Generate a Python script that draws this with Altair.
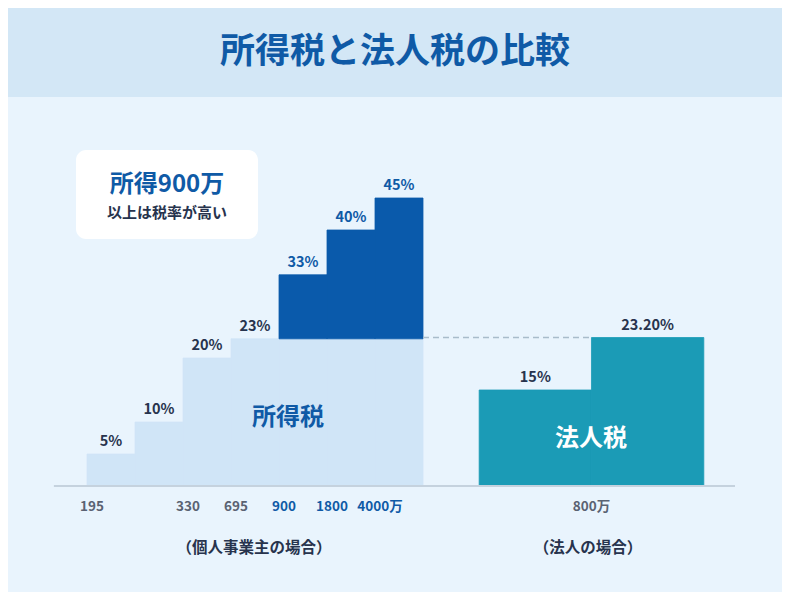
import altair as alt
import pandas as pd

# 所得税（個人事業主）の税率ブラケット
income_rates = [5, 10, 20, 23, 33, 40, 45]
income_labels = ["5%", "10%", "20%", "23%", "33%", "40%", "45%"]
# 境界ラベル（画像のとおりの並び）
threshold_labels = ["195", "330", "695", "900", "1800", "4000万"]
threshold_slots = [0, 2, 3, 4, 5, 6]

# 法人税
corp_rates = [15, 23.2]
corp_labels = ["15%", "23.20%"]
corp_threshold = "800万"

FONT = "Noto Sans CJK JP"
NAVY = "#27334d"
BLUE = "#0f5aa6"
GRAY = "#5a6272"
LIGHT = "#d0e5f7"
DARK = "#0a5aab"
TEAL = "#1b9bb6"
BG = "#e9f4fd"
BAND = "#d3e7f6"
HIGH = 23  # 23%を超える部分を濃色で表示

W, H = 774, 584
UNIT = 48  # px per bracket
X0 = 79  # chart x of first bracket
BASE = 478  # chart y of 0%
PX_PER_PCT = 6.4

x_scale = alt.Scale(domain=[-X0 / UNIT, (W - X0) / UNIT], nice=False, zero=False)
y_scale = alt.Scale(domain=[-(H - BASE) / PX_PER_PCT, BASE / PX_PER_PCT], nice=False, zero=False)

income = pd.DataFrame({
    "start": list(range(len(income_rates))),
    "end": [i + 1 for i in range(len(income_rates))],
    "rate": income_rates,
    "label": income_labels,
})
income["mid"] = income["start"] + 0.5
income["light_top"] = income["rate"].clip(upper=HIGH)
income["dark_bottom"] = HIGH
income["color"] = [BLUE if r > HIGH else NAVY for r in income_rates]

corp_start = 8.17
corp_width = 2.34
corp = pd.DataFrame({
    "start": [corp_start + i * corp_width for i in range(len(corp_rates))],
    "end": [corp_start + (i + 1) * corp_width for i in range(len(corp_rates))],
    "rate": corp_rates,
    "label": corp_labels,
})
corp["mid"] = (corp["start"] + corp["end"]) / 2

ticks = pd.DataFrame({
    "pos": threshold_slots,
    "label": threshold_labels,
    "color": [BLUE if t >= 4 else GRAY for t in threshold_slots],
})
corp_tick = pd.DataFrame({"pos": [corp_start + corp_width], "label": [corp_threshold]})

X = lambda f: alt.X(f"{f}:Q", scale=x_scale, axis=None)
Y = lambda f: alt.Y(f"{f}:Q", scale=y_scale, axis=None)

one = pd.DataFrame({"a": [0]})

band = alt.Chart(one).mark_rect(color=BAND).encode(
    x=alt.value(0), x2=alt.value(W), y=alt.value(0), y2=alt.value(89)
)
title = alt.Chart(one).mark_text(
    text="所得税と法人税の比較", font=FONT, fontSize=35, fontWeight="bold", color=BLUE
).encode(x=alt.value(W / 2), y=alt.value(44))

light = alt.Chart(income).mark_rect(color=LIGHT, stroke=LIGHT, strokeWidth=0.8).encode(
    x=X("start"), x2="end", y=Y("light_top"), y2=alt.datum(0)
)
dark = alt.Chart(income[income["rate"] > HIGH]).mark_rect(color=DARK, stroke=DARK, strokeWidth=0.8).encode(
    x=X("start"), x2="end", y=Y("rate"), y2="dark_bottom"
)
income_text = alt.Chart(income).mark_text(
    font=FONT, fontSize=14.5, fontWeight="bold", baseline="alphabetic", dy=-8
).encode(x=X("mid"), y=Y("rate"), text="label", color=alt.Color("color:N", scale=None))

corp_bars = alt.Chart(corp).mark_rect(color=TEAL, stroke=TEAL, strokeWidth=0.8).encode(
    x=X("start"), x2="end", y=Y("rate"), y2=alt.datum(0)
)
corp_text = alt.Chart(corp).mark_text(
    font=FONT, fontSize=14.5, fontWeight="bold", baseline="alphabetic", dy=-8, color=NAVY
).encode(x=X("mid"), y=Y("rate"), text="label")

dash = alt.Chart(pd.DataFrame({"x1": [len(income_rates)], "x2": [corp_start + corp_width], "y": [corp_rates[1]]})).mark_rule(
    color="#a9bccb", strokeDash=[6, 4], strokeWidth=1.5
).encode(x=X("x1"), x2="x2", y=Y("y"))

baseline = alt.Chart(pd.DataFrame({"x1": [-0.69], "x2": [13.5], "y": [0]})).mark_rule(
    color="#c5d2de", strokeWidth=2
).encode(x=X("x1"), x2="x2", y=Y("y"))

tick_text = alt.Chart(ticks).mark_text(
    font=FONT, fontSize=13.5, fontWeight="bold", dx=5
).encode(x=X("pos"), y=alt.value(499), text="label", color=alt.Color("color:N", scale=None))
corp_tick_text = alt.Chart(corp_tick).mark_text(
    font=FONT, fontSize=13.5, fontWeight="bold", color=GRAY
).encode(x=X("pos"), y=alt.value(499), text="label")

sub_income = alt.Chart(one).mark_text(
    text="（個人事業主の場合）", font=FONT, fontSize=15.5, fontWeight="bold", color=NAVY
).encode(x=alt.value(246), y=alt.value(540))
sub_corp = alt.Chart(one).mark_text(
    text="（法人の場合）", font=FONT, fontSize=15.5, fontWeight="bold", color=NAVY
).encode(x=alt.value(580), y=alt.value(540))

income_name = alt.Chart(one).mark_text(
    text="所得税", font=FONT, fontSize=24, fontWeight="bold", color=BLUE
).encode(x=alt.value(280), y=alt.value(410))
corp_name = alt.Chart(one).mark_text(
    text="法人税", font=FONT, fontSize=24, fontWeight="bold", color="white"
).encode(x=alt.value(583), y=alt.value(431))

callout = alt.Chart(one).mark_rect(color="white", cornerRadius=10).encode(
    x=alt.value(68), x2=alt.value(250), y=alt.value(142), y2=alt.value(231)
)
callout_big = alt.Chart(one).mark_text(
    text="所得900万", font=FONT, fontSize=24, fontWeight="bold", color=BLUE
).encode(x=alt.value(159), y=alt.value(177))
callout_small = alt.Chart(one).mark_text(
    text="以上は税率が高い", font=FONT, fontSize=15, fontWeight="bold", color=NAVY
).encode(x=alt.value(159), y=alt.value(205))

chart = alt.layer(
    band, title,
    light, dark, corp_bars, dash, baseline,
    income_text, corp_text, tick_text, corp_tick_text,
    sub_income, sub_corp, income_name, corp_name,
    callout, callout_big, callout_small,
).properties(
    width=W, height=H, autosize="none", padding=0, background=BG
).configure_view(stroke=None, fill=BG)

chart.save("out.html", embed_options={"renderer": "svg", "actions": False})
